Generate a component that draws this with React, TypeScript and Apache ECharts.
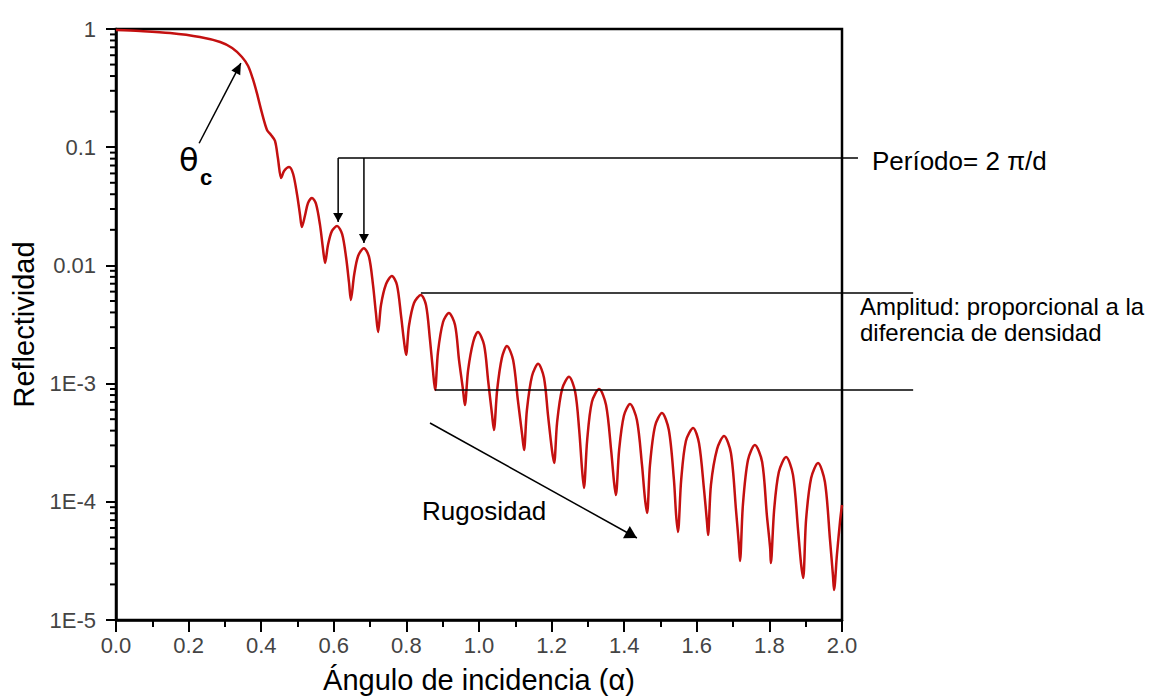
import React, { useEffect, useRef } from "react";
import * as echarts from "echarts";

// Angle of incidence (x) and reflectivity (y, log scale)
const ANGLE = [
  0, 0.066, 0.149, 0.231, 0.287, 0.32, 0.347, 0.364, 0.377, 0.388, 0.402, 0.416, 0.427, 0.438, 0.446, 0.455, 0.463, 0.477, 0.488, 0.499, 0.507, 0.512, 0.521, 0.529, 0.54, 0.551, 0.562, 0.57, 0.576,
  0.584, 0.595, 0.609, 0.623, 0.634, 0.642, 0.647,
  0.656, 0.667, 0.683, 0.697, 0.708, 0.716, 0.722,
  0.73, 0.744, 0.76, 0.774, 0.785, 0.793, 0.799,
  0.807, 0.821, 0.84, 0.854, 0.865, 0.873, 0.879,
  0.887, 0.901, 0.917, 0.934, 0.945, 0.956, 0.961,
  0.97, 0.984, 0.997, 1.014, 1.025, 1.036, 1.041,
  1.05, 1.063, 1.077, 1.094, 1.107, 1.119, 1.124,
  1.132, 1.146, 1.163, 1.179, 1.19, 1.201, 1.207,
  1.215, 1.229, 1.248, 1.265, 1.276, 1.284, 1.289,
  1.298, 1.311, 1.331, 1.35, 1.364, 1.372, 1.377,
  1.386, 1.399, 1.416, 1.435, 1.449, 1.457, 1.463,
  1.471, 1.485, 1.504, 1.523, 1.537, 1.543, 1.548,
  1.557, 1.57, 1.59, 1.606, 1.62, 1.628, 1.631,
  1.639, 1.656, 1.675, 1.694, 1.708, 1.716, 1.719,
  1.727, 1.741, 1.76, 1.78, 1.793, 1.802, 1.804,
  1.813, 1.826, 1.846, 1.865, 1.879, 1.887, 1.893,
  1.901, 1.915, 1.934, 1.953, 1.967, 1.975, 1.978,
  1.986, 1.995, 2.0,
];

const REFLECTIVITY = [
  0.981, 0.962, 0.925, 0.856, 0.776, 0.691, 0.58, 0.486, 0.378, 0.288, 0.195, 0.14, 0.127, 0.113, 0.081, 0.0548, 0.0629, 0.068, 0.0593, 0.0394, 0.0267, 0.0211, 0.0267, 0.0337, 0.0372, 0.0331, 0.022, 0.014, 0.0105,
  0.0149, 0.0196, 0.0215, 0.0184, 0.0116, 0.0071, 0.0051,
  0.00829, 0.012, 0.014, 0.0118, 0.00683, 0.00396, 0.00273,
  0.00462, 0.00696, 0.00813, 0.00683, 0.00381, 0.00234, 0.00175,
  0.00307, 0.00481, 0.00562, 0.00462, 0.00234, 0.0013, 0.000883,
  0.00185, 0.00332, 0.00396, 0.00313, 0.00158, 0.000883, 0.000659,
  0.0013, 0.00225, 0.00273, 0.00212, 0.00107, 0.000543, 0.000405,
  0.000883, 0.00165, 0.00208, 0.00158, 0.000727, 0.000367, 0.000274,
  0.000598, 0.00116, 0.00147, 0.00112, 0.000543, 0.000274, 0.000213,
  0.000464, 0.0009, 0.00114, 0.000849, 0.000405, 0.000186, 0.000131,
  0.000333, 0.000699, 0.0009, 0.000659, 0.000274, 0.000147, 0.000114,
  0.000274, 0.000532, 0.000672, 0.000492, 0.000205, 0.000108, 0.0000804,
  0.000205, 0.000438, 0.000564, 0.000405, 0.000153, 0.0000773, 0.0000555,
  0.000153, 0.000327, 0.000421, 0.000314, 0.000126, 0.0000675, 0.0000524,
  0.000139, 0.00028, 0.00036, 0.000259, 0.0000852, 0.0000431, 0.0000316,
  0.000094, 0.000226, 0.000302, 0.000217, 0.0000773, 0.0000407, 0.0000303,
  0.0000852, 0.000179, 0.000239, 0.000169, 0.0000577, 0.0000303, 0.0000227,
  0.0000702, 0.000159, 0.000213, 0.000147, 0.0000475, 0.000024, 0.0000179,
  0.0000355, 0.0000702, 0.000094,
];

// Axis tick labels
const Y_LABELS: Record<string, string> = {
  "0": "1",
  "-1": "0.1",
  "-2": "0.01",
  "-3": "1E-3",
  "-4": "1E-4",
  "-5": "1E-5",
};
const DECADES = [1e-5, 1e-4, 1e-3, 1e-2, 1e-1];
const MINOR_MULTIPLIERS = [2, 3, 4, 5, 6, 7, 8, 9];

// Annotation anchors in data coordinates
const THETA_ARROW = { from: [0.229, 0.108], to: [0.344, 0.515] };
const PERIOD_LINE = { y: 0.081, fromX: 0.612, toX: 2.044 };
const PERIOD_ARROW_TIPS = [
  [0.612, 0.0233],
  [0.683, 0.0155],
];
const AMPLITUDE_LINES = [
  { from: [0.84, 0.00584], toX: 2.196 },
  { from: [0.879, 0.000883], toX: 2.196 },
];
const RUGOSITY_ARROW = { from: [0.865, 0.000464], to: [1.435, 0.0000494] };

const FONT = "'Liberation Sans', Arial, 'DejaVu Sans', sans-serif";

export default function App() {
  const ref = useRef<HTMLDivElement>(null);

  useEffect(() => {
    if (!ref.current) return;
    const chart = echarts.init(ref.current, undefined, { renderer: "svg" });

    const minorTicks: number[] = [];
    DECADES.forEach((d) => MINOR_MULTIPLIERS.forEach((m) => minorTicks.push(d * m)));

    const curve = ANGLE.slice(0, Math.min(ANGLE.length, REFLECTIVITY.length)).map((x, i) => [x, REFLECTIVITY[i]]);

    chart.setOption({
      animation: false,
      backgroundColor: "#ffffff",
      grid: {
        left: 116,
        right: 320,
        top: 29,
        bottom: 78,
        containLabel: false,
        outerBoundsMode: "none",
        show: true,
        borderColor: "#000",
        borderWidth: 2.5,
        backgroundColor: "transparent",
      },
      xAxis: {
        type: "value",
        min: 0,
        max: 2,
        interval: 0.2,
        axisLine: { onZero: false, lineStyle: { color: "#000", width: 2.5 } },
        axisTick: { show: true, length: 12, lineStyle: { color: "#000", width: 2 } },
        minorTick: { show: true, splitNumber: 2, length: 7, lineStyle: { color: "#000", width: 2 } },
        splitLine: { show: false },
        axisLabel: {
          formatter: (v: number) => v.toFixed(1),
          fontSize: 22,
          color: "#444",
          margin: 14,
          fontFamily: FONT,
        },
        name: "Ángulo de incidencia (α)",
        nameLocation: "middle",
        nameGap: 45,
        nameTextStyle: { fontSize: 29, color: "#000", fontFamily: FONT },
      },
      yAxis: {
        type: "log",
        logBase: 10,
        min: 1e-5,
        max: 1,
        axisLine: { show: true, onZero: false, lineStyle: { color: "#000", width: 2.5 } },
        axisTick: { show: true, length: 10, lineStyle: { color: "#000", width: 2 } },
        splitLine: { show: false },
        axisLabel: {
          formatter: (v: number) => Y_LABELS[String(Math.round(Math.log10(v)))] ?? "",
          fontSize: 22,
          color: "#444",
          margin: 20,
          fontFamily: FONT,
        },
        name: "Reflectividad",
        nameLocation: "middle",
        nameGap: 77,
        nameTextStyle: { fontSize: 29, color: "#000", fontFamily: FONT },
      },
      series: [
        {
          type: "line",
          data: curve,
          showSymbol: false,
          smooth: 0.3,
          lineStyle: { color: "#c41010", width: 2.5 },
          z: 3,
        },
        {
          type: "custom",
          data: minorTicks.map((v) => [0, v]),
          clip: false,
          silent: true,
          z: 2,
          renderItem: (_params: any, api: any) => {
            const p = api.coord([api.value(0), api.value(1)]);
            return {
              type: "line",
              shape: { x1: p[0] - 6, y1: p[1], x2: p[0], y2: p[1] },
              style: { stroke: "#000", lineWidth: 2 },
            };
          },
        },
      ],
    });

    const P = (d: number[]) => chart.convertToPixel({ gridIndex: 0 } as any, d) as number[];
    const line = (a: number[], b: number[], w = 1.5) => ({
      type: "line",
      shape: { x1: a[0], y1: a[1], x2: b[0], y2: b[1] },
      style: { stroke: "#000", lineWidth: w },
      z: 10,
    });
    const head = (from: number[], tip: number[], len = 11, half = 5) => {
      const dx = tip[0] - from[0];
      const dy = tip[1] - from[1];
      const n = Math.hypot(dx, dy) || 1;
      const ux = dx / n;
      const uy = dy / n;
      const bx = tip[0] - ux * len;
      const by = tip[1] - uy * len;
      return {
        type: "polygon",
        shape: {
          points: [
            [tip[0], tip[1]],
            [bx - uy * half, by + ux * half],
            [bx + uy * half, by - ux * half],
          ],
        },
        style: { fill: "#000" },
        z: 10,
      };
    };
    const text = (x: number, y: number, t: string, size: number, extra: any = {}) => ({
      type: "text",
      x,
      y,
      z: 10,
      style: {
        text: t,
        fontSize: size,
        fontFamily: FONT,
        fill: "#000",
        align: "left",
        verticalAlign: "middle",
        textAlign: "left",
        textVerticalAlign: "middle",
        ...extra,
      },
    });

    const elements: any[] = [];
    // Critical angle arrow
    const tf = P(THETA_ARROW.from);
    const tt = P(THETA_ARROW.to);
    elements.push(line(tf, tt));
    elements.push(head(tf, tt));
    elements.push(text(179, 160, "θ", 32, { fontFamily: "'DejaVu Sans', sans-serif" }));
    elements.push(text(200, 177, "c", 22, { fontWeight: "bold" }));

    // Period bracket
    const pl0 = P([PERIOD_LINE.fromX, PERIOD_LINE.y]);
    const pl1 = P([PERIOD_LINE.toX, PERIOD_LINE.y]);
    elements.push(line(pl0, pl1));
    PERIOD_ARROW_TIPS.forEach((tip) => {
      const t = P(tip);
      const top = [t[0], pl0[1]];
      elements.push(line(top, t));
      elements.push(head(top, t, 9, 5));
    });
    elements.push(text(pl1[0] + 14, pl1[1] + 3, "Período= 2 π/d", 26));

    // Amplitude lines
    AMPLITUDE_LINES.forEach((l) => {
      const a = P(l.from);
      const b = P([l.toX, l.from[1]]);
      elements.push(line(a, b));
    });
    elements.push(text(860, 306, "Amplitud: proporcional a la", 24));
    elements.push(text(860, 332, "diferencia de densidad", 24));

    // Roughness arrow
    const rf = P(RUGOSITY_ARROW.from);
    const rt = P(RUGOSITY_ARROW.to);
    elements.push(line(rf, rt));
    elements.push(head(rf, rt, 12, 7));
    elements.push(text(422, 511, "Rugosidad", 26));

    chart.setOption({ graphic: { elements } });

    return () => chart.dispose();
  }, []);

  return (
    <div
      ref={ref}
      style={{ position: "fixed", left: 0, top: 0, width: 1162, height: 698, background: "#fff" }}
    />
  );
}
